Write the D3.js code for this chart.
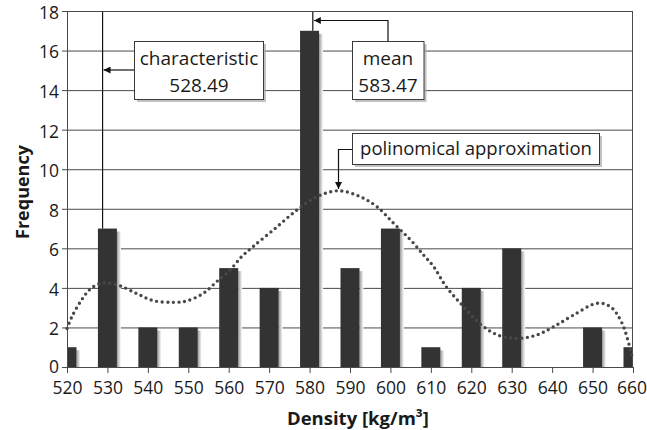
<!DOCTYPE html>
<html><head><meta charset="utf-8">
<script src="https://cdn.jsdelivr.net/npm/d3@7"></script>
<style>body{margin:0;background:#fff}svg{display:block}text{font-family:"Open Sans",sans-serif;fill:#1a1a1a}</style>
</head><body>
<script>
// ---- data ----
const densities = [520,530,540,550,560,570,580,590,600,610,620,630,640,650,660];
const frequencies = [1,7,2,2,5,4,17,5,7,1,4,6,0,2,1];
const xTicks = [520,530,540,550,560,570,580,590,600,610,620,630,640,650,660];
const yTicks = [0,2,4,6,8,10,12,14,16,18];
const polyX = [520,521.2,523.6,525.7,528.2,530.6,533.1,537.2,541.4,546.3,549.6,553.7,557,560.3,563.2,566.1,571.5,576.9,581.8,587.2,592.5,596.7,600.8,605,608.2,610.7,613.8,618.1,623,627.2,631.7,636.2,640.4,645.3,651.1,654.4,657.3,659.8];
const polyY = [1.95,2.54,3.39,3.93,4.23,4.23,4.11,3.72,3.35,3.27,3.34,3.72,4.31,4.9,5.58,6.1,7.01,7.94,8.61,8.91,8.61,8.1,7.26,6.42,5.66,5.07,4.06,3.05,2.04,1.57,1.45,1.62,2.04,2.63,3.22,3.05,2.21,0.52];
const charLabel = ["characteristic","528.49"];
const meanLabel = ["mean","583.47"];
const polyLabel = "polinomical approximation";
const charLineX = 528.8;   // where the marker line sits in the picture
const meanLineX = 580.8;
const xTitle = "Density [kg/m³]";
const yTitle = "Frequency";

// ---- layout ----
const W = 647, H = 430;
const m = {l:67, t:11, r:14, b:63};
const pw = W - m.l - m.r, ph = H - m.t - m.b;
const svg = d3.select("body").append("svg").attr("width", W).attr("height", H);
const defs = svg.append("defs");
defs.append("clipPath").attr("id","clip").append("rect").attr("width",pw).attr("height",ph);
const grad = defs.append("linearGradient").attr("id","sh").attr("x1","0").attr("x2","1");
grad.append("stop").attr("offset","0").attr("stop-color","#9a9a9a");
grad.append("stop").attr("offset","1").attr("stop-color","#ffffff");
defs.append("marker").attr("id","arr").attr("viewBox","0 0 10 10").attr("refX",10).attr("refY",5)
  .attr("markerWidth",7).attr("markerHeight",7).attr("markerUnits","userSpaceOnUse").attr("orient","auto")
  .append("path").attr("d","M0,0L10,5L0,10z").attr("fill","#111");

const x = d3.scaleLinear().domain([520,660]).range([0,pw]);
const y = d3.scaleLinear().domain([0,18]).range([ph,0]);
const g = svg.append("g").attr("transform",`translate(${m.l},${m.t})`);

// gridlines
g.append("g").selectAll("line").data(yTicks.filter(d=>d>0 && d<18)).join("line")
  .attr("x1",0).attr("x2",pw).attr("y1",d=>y(d)+0.5).attr("y2",d=>y(d)+0.5)
  .attr("stroke","#4a4a4a").attr("stroke-width",1);

// marker lines
const bw = x(522.35) - x(520);
g.append("line").attr("x1",x(charLineX)).attr("x2",x(charLineX)).attr("y1",0).attr("y2",y(frequencies[1]))
  .attr("stroke","#111").attr("stroke-width",1.2);
g.append("line").attr("x1",x(meanLineX)).attr("x2",x(meanLineX)).attr("y1",0).attr("y2",y(frequencies[6]))
  .attr("stroke","#111").attr("stroke-width",1.2);

// bars
const bars = g.append("g").attr("clip-path","url(#clip)");
bars.selectAll("rect.s").data(densities).join("rect").attr("class","s")
  .attr("x",d=>x(d)+bw).attr("width",4)
  .attr("y",(d,i)=>y(frequencies[i])+3).attr("height",(d,i)=>Math.max(0,ph-y(frequencies[i])-3))
  .attr("fill","url(#sh)");
bars.selectAll("rect.b").data(densities).join("rect").attr("class","b")
  .attr("x",d=>x(d)-bw).attr("width",2*bw)
  .attr("y",(d,i)=>y(frequencies[i])).attr("height",(d,i)=>ph-y(frequencies[i]))
  .attr("fill","#333333");

// polynomial curve
const pts = polyX.map((v,i)=>[v,polyY[i]]);
g.append("path").datum(pts)
  .attr("d",d3.line().x(d=>x(d[0])).y(d=>y(d[1])).curve(d3.curveCatmullRom))
  .attr("fill","none").attr("stroke","#484848").attr("stroke-width",3.4)
  .attr("stroke-linecap","round").attr("stroke-dasharray","0 5.6");

// frame
g.append("rect").attr("x",0.5).attr("y",0.5).attr("width",pw-1).attr("height",ph)
  .attr("fill","none").attr("stroke","#4a4a4a").attr("stroke-width",1);

// axes
const xa = g.append("g").attr("transform",`translate(0,${ph})`)
  .call(d3.axisBottom(x).tickValues(xTicks).tickSize(6).tickPadding(9).tickFormat(d3.format("d")));
xa.select(".domain").remove();
xa.selectAll("line").attr("stroke","#4a4a4a");
xa.selectAll("text").attr("font-size","17.5px").attr("font-family","Open Sans").attr("fill","#1a1a1a")
  .attr("dx",d=>d===660?"-1.5":"0");
const ya = g.append("g").call(d3.axisLeft(y).tickValues(yTicks).tickSize(5).tickPadding(3).tickFormat(d3.format("d")));
ya.select(".domain").remove();
ya.selectAll("line").attr("stroke","#4a4a4a");
ya.selectAll("text").attr("font-size","17.5px").attr("font-family","Open Sans").attr("fill","#1a1a1a")
  .attr("dy",d=>d===0?"0.3em":"0.42em");

// titles
svg.append("text").attr("x",m.l+pw/2+8).attr("y",425).attr("text-anchor","middle")
  .attr("font-weight","bold").attr("font-size","18.5px").text(xTitle);
svg.append("text").attr("transform",`translate(29,${m.t+ph/2+3}) rotate(-90)`).attr("text-anchor","middle")
  .attr("font-weight","bold").attr("font-size","18px").text(yTitle);

// annotation boxes
function box(x0,y0,w,h){
  svg.append("rect").attr("x",x0+2.5).attr("y",y0+2.5).attr("width",w).attr("height",h).attr("fill","#a8a8a8").attr("opacity",0.7);
  svg.append("rect").attr("x",x0).attr("y",y0).attr("width",w).attr("height",h).attr("fill","#fff").attr("stroke","#3a3a3a").attr("stroke-width",1);
}
// characteristic
const cx = m.l + x(charLineX);
svg.append("line").attr("x1",134).attr("x2",cx+1).attr("y1",70).attr("y2",70).attr("stroke","#111").attr("stroke-width",1.2).attr("marker-end","url(#arr)");
box(134.5,41.5,129,58);
svg.append("text").attr("x",199).attr("y",65).attr("text-anchor","middle").attr("font-size","19px").text(charLabel[0]);
svg.append("text").attr("x",199).attr("y",92).attr("text-anchor","middle").attr("font-size","19px").text(charLabel[1]);
// mean
const mx = m.l + x(meanLineX);
svg.append("path").attr("d",`M388,41V20.5H${mx+1}`).attr("fill","none").attr("stroke","#111").attr("stroke-width",1.2).attr("marker-end","url(#arr)");
box(352.5,41.5,71.5,58);
svg.append("text").attr("x",388).attr("y",65).attr("text-anchor","middle").attr("font-size","19px").text(meanLabel[0]);
svg.append("text").attr("x",388).attr("y",92).attr("text-anchor","middle").attr("font-size","19px").text(meanLabel[1]);
// polynomial
svg.append("path").attr("d","M353,149.5H338.5V189").attr("fill","none").attr("stroke","#111").attr("stroke-width",1.2).attr("marker-end","url(#arr)");
box(352.5,133.5,247,31);
svg.append("text").attr("x",476).attr("y",155).attr("text-anchor","middle").attr("font-size","18.5px").text(polyLabel);
</script>
</body></html>
